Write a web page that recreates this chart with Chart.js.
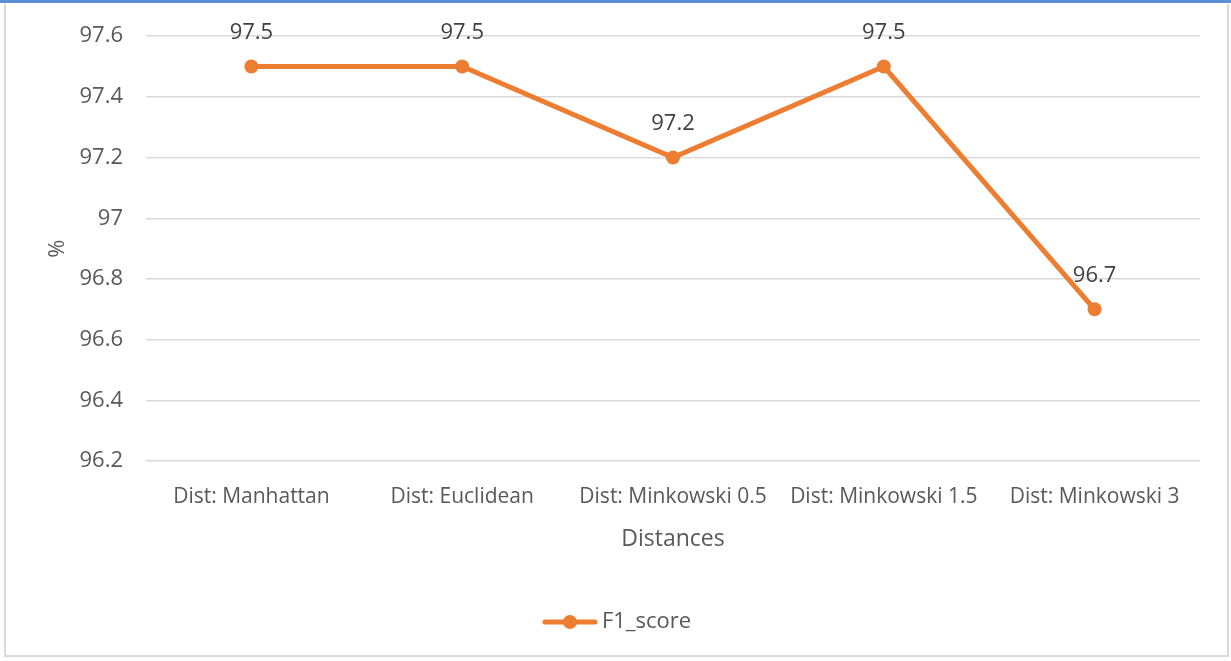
<!DOCTYPE html>
<html>
<head>
<meta charset="utf-8">
<script src="https://cdn.jsdelivr.net/npm/chart.js@4/dist/chart.umd.min.js"></script>
<style>
  html, body { margin: 0; padding: 0; background: #fff; }
  #frame { position: relative; width: 1231px; height: 661px; overflow: hidden; }
  #topbar { position: absolute; left: 0; top: 0; width: 1231px; height: 3px; background: #5b8fd6; }
  #box { position: absolute; left: 4px; top: 4px; width: 1221px; height: 651px; border: 2px solid #d9d9d9; border-top: none; }
  #wrap { position: absolute; left: 0; top: 0; width: 1231px; height: 661px; }
</style>
</head>
<body>
<div id="frame">
  <div id="topbar"></div>
  <div id="box"></div>
  <div id="wrap"><canvas id="chart" width="1231" height="661"></canvas></div>
</div>
<script>
const distances = ["Dist: Manhattan", "Dist: Euclidean", "Dist: Minkowski 0.5", "Dist: Minkowski 1.5", "Dist: Minkowski 3"];
const f1Score = [97.5, 97.5, 97.2, 97.5, 96.7];
const yTicks = [96.2, 96.4, 96.6, 96.8, 97, 97.2, 97.4, 97.6];

const orange = "#ed7d31";
const textGrey = "#595959";
const fontFamily = "'Open Sans', 'Noto Sans', sans-serif";

// legend marker: short line with a dot in the middle
const marker = document.createElement("canvas");
marker.width = 56;
marker.height = 16;
(function () {
  const c = marker.getContext("2d");
  c.strokeStyle = orange;
  c.lineWidth = 5;
  c.lineCap = "round";
  c.beginPath();
  c.moveTo(3, 8);
  c.lineTo(53, 8);
  c.stroke();
  c.fillStyle = orange;
  c.beginPath();
  c.arc(28, 8, 7, 0, Math.PI * 2);
  c.fill();
})();

// value labels above each point
const valueLabels = {
  id: "valueLabels",
  afterDatasetsDraw(chart) {
    const ctx = chart.ctx;
    const meta = chart.getDatasetMeta(0);
    ctx.save();
    ctx.font = "22px " + fontFamily;
    ctx.fillStyle = "#404040";
    ctx.textAlign = "center";
    ctx.textBaseline = "middle";
    meta.data.forEach((pt, i) => {
      ctx.fillText(String(f1Score[i]), pt.x, pt.y - 34);
    });
    ctx.restore();
  }
};

new Chart(document.getElementById("chart").getContext("2d"), {
  type: "line",
  data: {
    labels: distances,
    datasets: [{
      label: "F1_score",
      data: f1Score,
      borderColor: orange,
      backgroundColor: orange,
      borderWidth: 5,
      pointRadius: 7,
      pointHoverRadius: 7,
      pointBackgroundColor: orange,
      pointBorderWidth: 0,
      tension: 0
    }]
  },
  options: {
    responsive: false,
    animation: false,
    layout: { padding: { left: 40, right: 31, top: 36, bottom: 18 } },
    plugins: {
      tooltip: { enabled: false },
      legend: {
        position: "bottom",
        labels: {
          usePointStyle: true,
          pointStyleWidth: 42,
          color: textGrey,
          font: { family: fontFamily, size: 22 },
          padding: 9,
          generateLabels(chart) {
            const items = Chart.defaults.plugins.legend.labels.generateLabels(chart);
            items.forEach(it => { it.pointStyle = marker; });
            return items;
          }
        }
      }
    },
    scales: {
      x: {
        offset: true,
        grid: { display: false, drawTicks: false },
        border: { display: false },
        ticks: { color: textGrey, font: { family: fontFamily, size: 21 }, padding: 23, maxRotation: 0 },
        title: { display: true, text: "Distances", color: textGrey, font: { family: fontFamily, size: 23 }, padding: { top: 8, bottom: 49 } },
        afterFit(scale) { scale.height = 141; }
      },
      y: {
        min: 96.2,
        max: 97.6,
        grid: { color: "#d9d9d9", lineWidth: 1.5, drawTicks: false },
        border: { display: false },
        afterBuildTicks(scale) { scale.ticks = yTicks.map(v => ({ value: v })); },
        ticks: { color: textGrey, font: { family: fontFamily, size: 22 }, padding: 23, callback: v => String(v) },
        title: { display: true, text: "%", color: textGrey, font: { family: fontFamily, size: 22 }, padding: { top: 5, bottom: 0 } },
        afterFit(scale) { scale.width = 106; }
      }
    }
  },
  plugins: [valueLabels]
});
</script>
</body>
</html>
